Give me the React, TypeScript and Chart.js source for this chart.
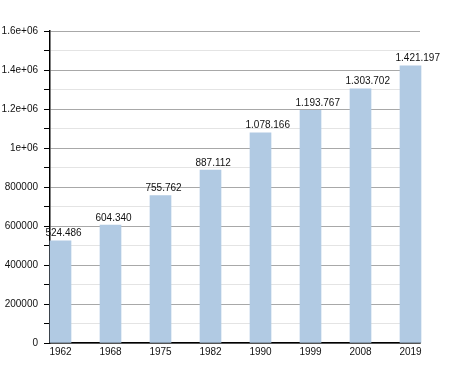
import React, { useEffect, useRef } from "react";
import { Chart, registerables } from "chart.js";

Chart.register(...registerables);

const years = ["1962", "1968", "1975", "1982", "1990", "1999", "2008", "2019"];
const population = [524486, 604340, 755762, 887112, 1078166, 1193767, 1303702, 1421197];
const valueLabels = ["524.486", "604.340", "755.762", "887.112", "1.078.166", "1.193.767", "1.303.702", "1.421.197"];
const yTickLabels: Record<number, string> = {
  0: "0",
  200000: "200000",
  400000: "400000",
  600000: "600000",
  800000: "800000",
  1000000: "1e+06",
  1200000: "1.2e+06",
  1400000: "1.4e+06",
  1600000: "1.6e+06",
};

const FONT = "'Liberation Sans', Arial, sans-serif";

const labelPlugin = {
  id: "valueLabels",
  afterDatasetsDraw(chart: any) {
    const ctx = chart.ctx;
    const meta = chart.getDatasetMeta(0);
    ctx.save();
    ctx.font = `10px ${FONT}`;
    ctx.fillStyle = "#111";
    ctx.textAlign = "left";
    ctx.textBaseline = "alphabetic";
    meta.data.forEach((bar: any, i: number) => {
      const left = bar.x - bar.width / 2;
      ctx.fillText(valueLabels[i], left - 4.5, bar.y - 4.5);
    });
    ctx.restore();
  },
};

export default function App() {
  const ref = useRef<HTMLCanvasElement>(null);
  useEffect(() => {
    if (!ref.current) return;
    const chart = new Chart(ref.current, {
      type: "bar",
      data: {
        datasets: [
          {
            data: population.map((v, i) => ({ x: i, y: v })),
            backgroundColor: "#b1cae3",
            borderWidth: 0,
            barThickness: 21,
            clip: false,
          },
        ],
      },
      options: {
        animation: false,
        responsive: false,
        events: [],
        layout: { padding: { top: 31, right: 30, bottom: 0, left: 0 } },
        plugins: { legend: { display: false }, tooltip: { enabled: false } },
        scales: {
          x: {
            type: "linear",
            offset: false,
            min: -0.21,
            max: 7.19,
            afterBuildTicks: (scale: any) => {
              scale.ticks = years.map((_, i) => ({ value: i }));
            },
            afterFit: (scale: any) => {
              scale.height = 30;
            },
            ticks: {
              callback: (v: any) => years[v] ?? "",
              color: "#111",
              font: { family: FONT, size: 10 },
              padding: 3,
              maxRotation: 0,
              autoSkip: false,
            },
            grid: { display: false, drawTicks: false },
            border: { color: "#000", width: 1.5 },
          },
          y: {
            min: 0,
            max: 1600000,
            afterBuildTicks: (scale: any) => {
              const t = [];
              for (let v = 0; v <= 1600000; v += 100000) t.push({ value: v });
              scale.ticks = t;
            },
            afterFit: (scale: any) => {
              scale.width = 50;
            },
            ticks: {
              callback: (v: any) => yTickLabels[v] ?? "",
              color: "#111",
              font: { family: FONT, size: 10 },
              padding: 6,
              autoSkip: false,
            },
            grid: {
              color: (c: any) =>
                c.tick && c.tick.value % 200000 === 0 ? "#a8a8a8" : "#e4e4e4",
              tickColor: "#000",
              tickLength: 6,
              lineWidth: 1,
            },
            border: { color: "#000", width: 1.5 },
          },
        },
      },
      plugins: [labelPlugin],
    } as any);
    return () => chart.destroy();
  }, []);
  return (
    <div style={{ position: "fixed", left: 0, top: 0, width: 450, height: 373, background: "#fff" }}>
      <canvas ref={ref} width={450} height={373} />
    </div>
  );
}
